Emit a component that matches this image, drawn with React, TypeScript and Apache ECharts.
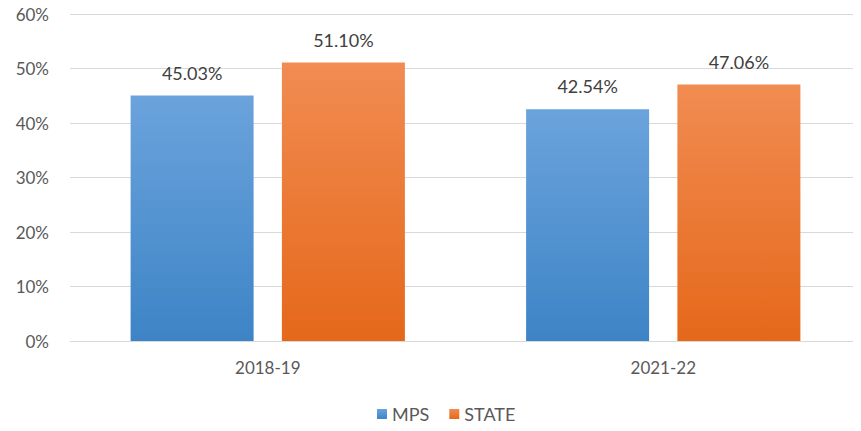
import React, { useEffect, useRef } from "react";
import * as echarts from "echarts";

const categories = ["2018-19", "2021-22"];
const mpsValues = [45.03, 42.54];
const stateValues = [51.1, 47.06];
const yTicks = [0, 10, 20, 30, 40, 50, 60];

const FONT = "Lato, 'Open Sans', sans-serif";

export default function App() {
  const ref = useRef<HTMLDivElement>(null);
  useEffect(() => {
    const chart = echarts.init(ref.current!, null, { renderer: "svg" });
    const grad = (top: string, bottom: string) =>
      new echarts.graphic.LinearGradient(0, 0, 0, 1, [
        { offset: 0, color: top },
        { offset: 1, color: bottom },
      ]);
    const label = {
      show: true,
      position: "top",
      distance: 14,
      fontSize: 18,
      color: "#404040",
      formatter: (p: any) => p.value.toFixed(2) + "%",
    };
    chart.setOption({
      animation: false,
      textStyle: { fontFamily: FONT },
      grid: { left: 70, right: -5, top: 14, bottom: 90 },
      legend: {
        bottom: 3,
        left: 372,
        itemWidth: 10,
        itemHeight: 10,
        itemGap: 20,
        icon: "rect",
        textStyle: { fontSize: 18, color: "#595959", fontFamily: FONT },
        data: ["MPS", "STATE"],
      },
      xAxis: {
        type: "category",
        data: categories,
        axisLine: { show: true, lineStyle: { color: "#d9d9d9" } },
        axisTick: { show: false },
        axisLabel: { fontSize: 17, color: "#595959", margin: 18 },
      },
      yAxis: {
        type: "value",
        min: yTicks[0],
        max: yTicks[yTicks.length - 1],
        interval: 10,
        axisLine: { show: false },
        axisTick: { show: false },
        splitLine: { lineStyle: { color: "#d9d9d9", width: 1 } },
        axisLabel: {
          fontSize: 17,
          color: "#595959",
          margin: 21,
          formatter: (v: number) => v + "%",
        },
      },
      series: [
        {
          name: "MPS",
          type: "bar",
          data: mpsValues,
          barWidth: 123,
          barGap: "23%",
          itemStyle: { color: grad("#6ba3dc", "#3d84c6") },
          label,
        },
        {
          name: "STATE",
          type: "bar",
          data: stateValues,
          barWidth: 123,
          itemStyle: { color: grad("#f18c52", "#e5681a") },
          label,
        },
      ],
    });
    return () => chart.dispose();
  }, []);
  return <div ref={ref} style={{ width: 861, height: 431, margin: -8 }} />;
}
